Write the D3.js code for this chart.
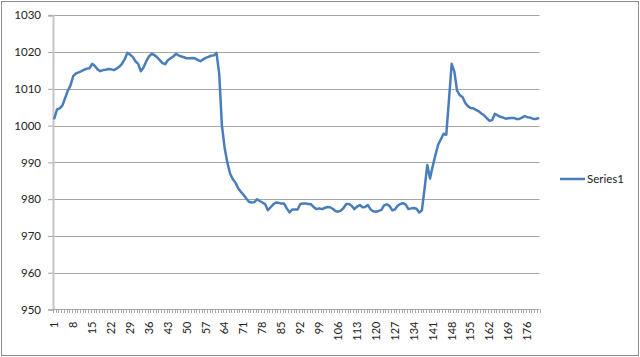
<!DOCTYPE html>
<html><head><meta charset="utf-8">
<script src="https://cdn.jsdelivr.net/npm/d3@7/dist/d3.min.js"></script>
<style>html,body{margin:0;padding:0;background:#fff;}svg{display:block;font-family:Lato,"Open Sans",sans-serif;}</style>
</head><body>
<svg id="c" width="640" height="357"></svg>
<script>
const categories = d3.range(1, 181);
const series1 = [
1002,1004.4,1004.7,1005.5,1007.5,1009.5,1011,1013.5,1014.2,1014.5,
1014.8,1015.2,1015.5,1015.6,1016.8,1016.2,1015.3,1014.8,1015.1,1015.2,
1015.4,1015.3,1015.1,1015.5,1016,1016.8,1018,1019.8,1019.3,1018.7,
1017.5,1016.8,1014.8,1015.8,1017.5,1018.8,1019.5,1019.2,1018.6,1017.8,
1017,1016.7,1017.8,1018.3,1018.8,1019.5,1019.1,1018.8,1018.6,1018.3,
1018.3,1018.4,1018.3,1017.9,1017.5,1018,1018.4,1018.7,1019,1019.1,
1019.8,1014,1000,994,990,987,985.5,984.5,983,982,
981.2,980.2,979.3,979.1,979.2,980,979.5,979.1,978.6,977,
977.8,978.6,979.1,979,978.8,978.8,977.5,976.4,977.2,977.2,
977.2,978.7,978.8,978.8,978.7,978.6,977.8,977.3,977.5,977.3,
977.6,977.9,977.8,977.4,976.8,976.6,976.9,977.6,978.7,978.7,
978.2,977.3,978,978.4,977.8,977.9,978.4,977.2,976.7,976.6,
976.8,977.1,978.3,978.6,978.2,977,977.2,978.2,978.7,978.9,
978.5,977.3,977.5,977.6,977.4,976.4,977,983,989.3,985.6,
989,992,994.8,996.3,997.8,997.5,1007,1016.8,1014.7,1009.5,
1008.3,1007.8,1006.2,1005.3,1004.8,1004.7,1004.3,1003.9,1003.3,1002.8,
1002,1001.3,1001.5,1003.2,1002.8,1002.4,1002.2,1001.9,1002,1002.1,
1002.1,1001.8,1001.8,1002.2,1002.6,1002.3,1002.2,1001.9,1001.8,1002
];
const xTickLabels = [1,8,15,22,29,36,43,50,57,64,71,78,85,92,99,106,113,120,127,134,141,148,155,162,169,176];
const yTicks = [950,960,970,980,990,1000,1010,1020,1030];
const seriesName = "Series1";

const svg = d3.select("#c");
svg.append("rect").attr("x",1.5).attr("y",1.5).attr("width",637).attr("height",354)
  .attr("fill","#fff").attr("stroke","#8c8c8c").attr("stroke-width",1);

const pLeft = 53, pRight = 539.5, pTop = 15.3, pBottom = 309.5;
const x = d3.scaleBand().domain(categories).range([pLeft, pRight]).padding(0);
const y = d3.scaleLinear().domain([950, 1030]).range([pBottom, pTop]);

// gridlines
svg.append("g").selectAll("line").data(yTicks.filter(t => t !== 950)).join("line")
  .attr("x1", pLeft).attr("x2", pRight)
  .attr("y1", d => Math.round(y(d)) + 0.5).attr("y2", d => Math.round(y(d)) + 0.5)
  .attr("stroke", "#a6a6a6").attr("stroke-width", 1);

// y axis
const yAxis = d3.axisLeft(y).tickValues(yTicks).tickSize(5).tickPadding(7).tickFormat(d3.format("d"));
const gy = svg.append("g").attr("transform", `translate(${pLeft},0)`).call(yAxis);
gy.select(".domain").attr("stroke", "#c6c6c6").attr("stroke-width", 2);
gy.selectAll(".tick line").attr("stroke", "#a6a6a6");
gy.selectAll(".tick text").attr("font-size", 11.5).attr("fill", "#222").attr("font-family", "Lato, 'Open Sans', sans-serif");

// x axis line
svg.append("line").attr("x1", pLeft).attr("x2", pRight).attr("y1", pBottom).attr("y2", pBottom)
  .attr("stroke", "#a6a6a6").attr("stroke-width", 1);
// minor ticks at category boundaries
const bounds = categories.map(c => x(c)).concat([pRight]);
svg.append("g").selectAll("line").data(bounds).join("line")
  .attr("x1", d => Math.round(d) + 0.5).attr("x2", d => Math.round(d) + 0.5)
  .attr("y1", pBottom).attr("y2", pBottom + 3.5)
  .attr("stroke", "#a6a6a6").attr("stroke-width", 1);
// x labels
svg.append("g").selectAll("text").data(xTickLabels).join("text")
  .attr("transform", d => `translate(${x(d) + x.bandwidth()/2},${pBottom + 12}) rotate(-90)`)
  .attr("text-anchor", "end").attr("dy", "0.35em")
  .attr("font-size", 11).attr("fill", "#222")
  .text(d => d);

// line
const line = d3.line().x((d, i) => x(categories[i]) + x.bandwidth()/2).y(d => y(d));
svg.append("path").datum(series1).attr("d", line)
  .attr("fill", "none").attr("stroke", "#4a7ebb").attr("stroke-width", 2.5)
  .attr("stroke-linejoin", "round").attr("stroke-linecap", "round");

// legend
const lg = svg.append("g");
lg.append("line").attr("x1", 560).attr("x2", 585).attr("y1", 179).attr("y2", 179)
  .attr("stroke", "#4a7ebb").attr("stroke-width", 2.5);
lg.append("text").attr("x", 587).attr("y", 179).attr("dy", "0.35em")
  .attr("font-size", 11.5).attr("fill", "#222").text(seriesName);
</script>
</body></html>
